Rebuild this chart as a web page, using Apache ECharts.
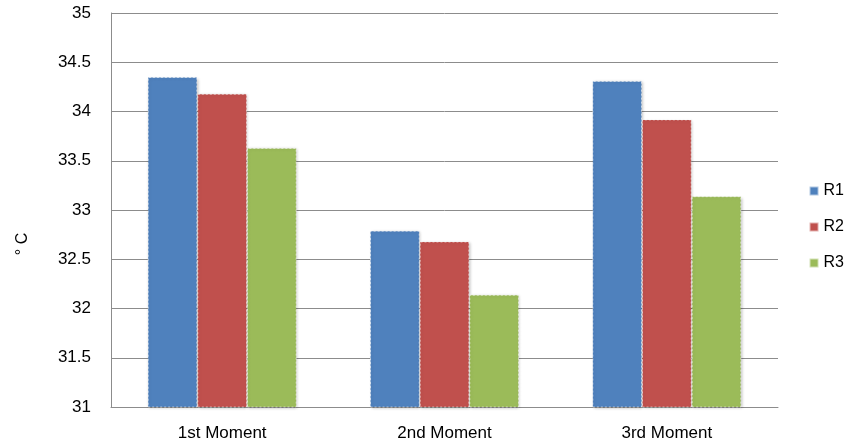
<!DOCTYPE html>
<html>
<head>
<meta charset="utf-8">
<script src="https://cdn.jsdelivr.net/npm/echarts@6/dist/echarts.min.js"></script>
<style>
  html, body { margin: 0; padding: 0; background: #fff; }
  #chart { width: 847px; height: 446px; }
</style>
</head>
<body>
<div id="chart"></div>
<script>
var categories = ["1st Moment", "2nd Moment", "3rd Moment"];
var seriesNames = ["R1", "R2", "R3"];
var r1Data = [34.35, 32.79, 34.31];
var r2Data = [34.18, 32.68, 33.92];
var r3Data = [33.63, 32.14, 33.14];
var colorData = ["#4F81BD", "#C0504D", "#9BBB59"];

var myChart = echarts.init(document.getElementById("chart"));

function makeSeries(name, data) {
    return {
        name: name,
        type: "bar",
        barGap: "0%",
        barCategoryGap: "33%",
        data: data,
        itemStyle: {
            borderColor: "rgba(255,255,255,0.55)",
            borderWidth: 1,
            borderType: [2, 2],
            shadowColor: "rgba(0,0,0,0.25)",
            shadowBlur: 3,
            shadowOffsetX: 1,
            shadowOffsetY: 1
        }
    };
}

var option = {
    animation: false,
    color: colorData,
    textStyle: { fontFamily: "Liberation Sans" },
    grid: { left: 111, right: 69, top: 13, bottom: 39, outerBoundsMode: "none" },
    legend: {
        orient: "vertical",
        right: -2,
        top: 178,
        itemWidth: 9,
        itemHeight: 9,
        itemGap: 20,
        icon: "rect",
        data: seriesNames,
        textStyle: { fontSize: 16, color: "#000" }
    },
    xAxis: {
        type: "category",
        data: categories,
        axisLine: { show: true, lineStyle: { color: "#8c8c8c", width: 1 } },
        axisTick: { show: false },
        axisLabel: { fontSize: 17, color: "#000", margin: 18 }
    },
    yAxis: {
        type: "value",
        min: 31,
        max: 35,
        interval: 0.5,
        name: "° C",
        nameLocation: "middle",
        nameGap: 80,
        nameRotate: 90,
        nameTextStyle: { fontSize: 16, color: "#000", padding: [0, 0, 0, -68] },
        axisLine: { show: true, lineStyle: { color: "#8c8c8c", width: 1 } },
        axisTick: { show: false },
        axisLabel: { fontSize: 17, color: "#000", margin: 20 },
        splitLine: { show: true, lineStyle: { color: "#8c8c8c", width: 1 } }
    },
    series: [
        makeSeries(seriesNames[0], r1Data),
        makeSeries(seriesNames[1], r2Data),
        makeSeries(seriesNames[2], r3Data)
    ]
};
myChart.setOption(option);
</script>
</body>
</html>
